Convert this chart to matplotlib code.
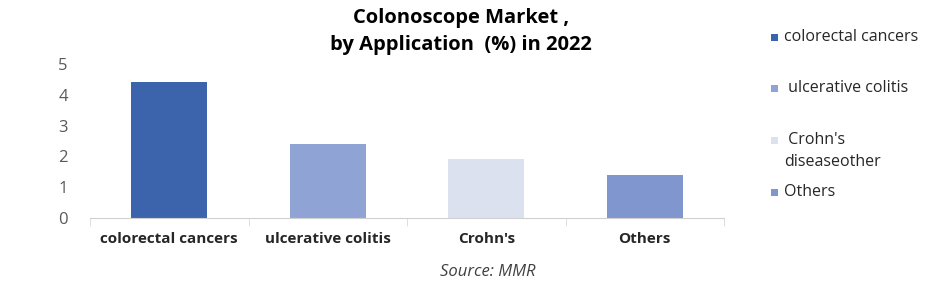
import matplotlib.pyplot as plt
from matplotlib.patches import Rectangle

categories = ["colorectal cancers", "ulcerative colitis", "Crohn's", "Others"]
values = [4.4, 2.4, 1.9, 1.4]
legend_labels = ["colorectal cancers", " ulcerative colitis", " Crohn's\ndiseaseother", "Others"]
colors = ["#3C64AD", "#8FA3D5", "#DBE1EF", "#7F96CE"]

plt.rcParams["font.family"] = ["Open Sans", "DejaVu Sans"]

W, H = 941, 283
fig = plt.figure(figsize=(W / 100, H / 100), dpi=100)
ax = fig.add_axes([90 / W, 65 / H, 634 / W, 154 / H])

x = range(len(categories))
ax.bar(x, values, width=0.48, color=colors)

ax.set_xlim(-0.5, len(categories) - 0.5)
ax.set_ylim(0, 5)
ax.set_yticks([0, 1, 2, 3, 4, 5])
ax.set_xticks(list(x))
ax.set_xticklabels(categories, fontsize=11, fontweight="bold", color="#262626")
ax.set_xticks([-0.5, 0.5, 1.5, 2.5, 3.5], minor=True)
ax.tick_params(axis="x", which="major", length=0, pad=10)
ax.tick_params(axis="x", which="minor", length=6, color="#D9D9D9")
ax.tick_params(axis="y", length=0, labelsize=12, labelcolor="#595959", pad=16)

for side in ["top", "right", "left"]:
    ax.spines[side].set_visible(False)
ax.spines["bottom"].set_color("#D0D0D0")
ax.spines["bottom"].set_linestyle((0, (1, 1)))

fig.text(461 / W, 1 - 18 / H, "Colonoscope Market ,", ha="center", va="center",
         fontsize=14.5, fontweight="bold", color="#000000")
fig.text(461 / W, 1 - 45 / H, "by Application  (%) in 2022", ha="center", va="center",
         fontsize=14.5, fontweight="bold", color="#000000")
fig.text(488 / W, 1 - 272 / H, "Source: MMR", ha="center", va="center",
         fontsize=12, style="italic", color="#404040")

# legend drawn by hand: square + label, at the reference's uneven spacing
legend_y = [37, 88, 151, 192]
for lab, c, yy in zip(legend_labels, colors, legend_y):
    sq_y = yy if "\n" not in lab else yy - 11
    fig.add_artist(Rectangle((771 / W, 1 - (sq_y + 4) / H), 7 / W, 7 / H,
                             transform=fig.transFigure, facecolor=c, edgecolor="none"))
    fig.text(784 / W, 1 - yy / H, lab, ha="left", va="center", fontsize=11.5,
             color="#262626", linespacing=1.55)

fig.savefig("out.png", dpi=100)
